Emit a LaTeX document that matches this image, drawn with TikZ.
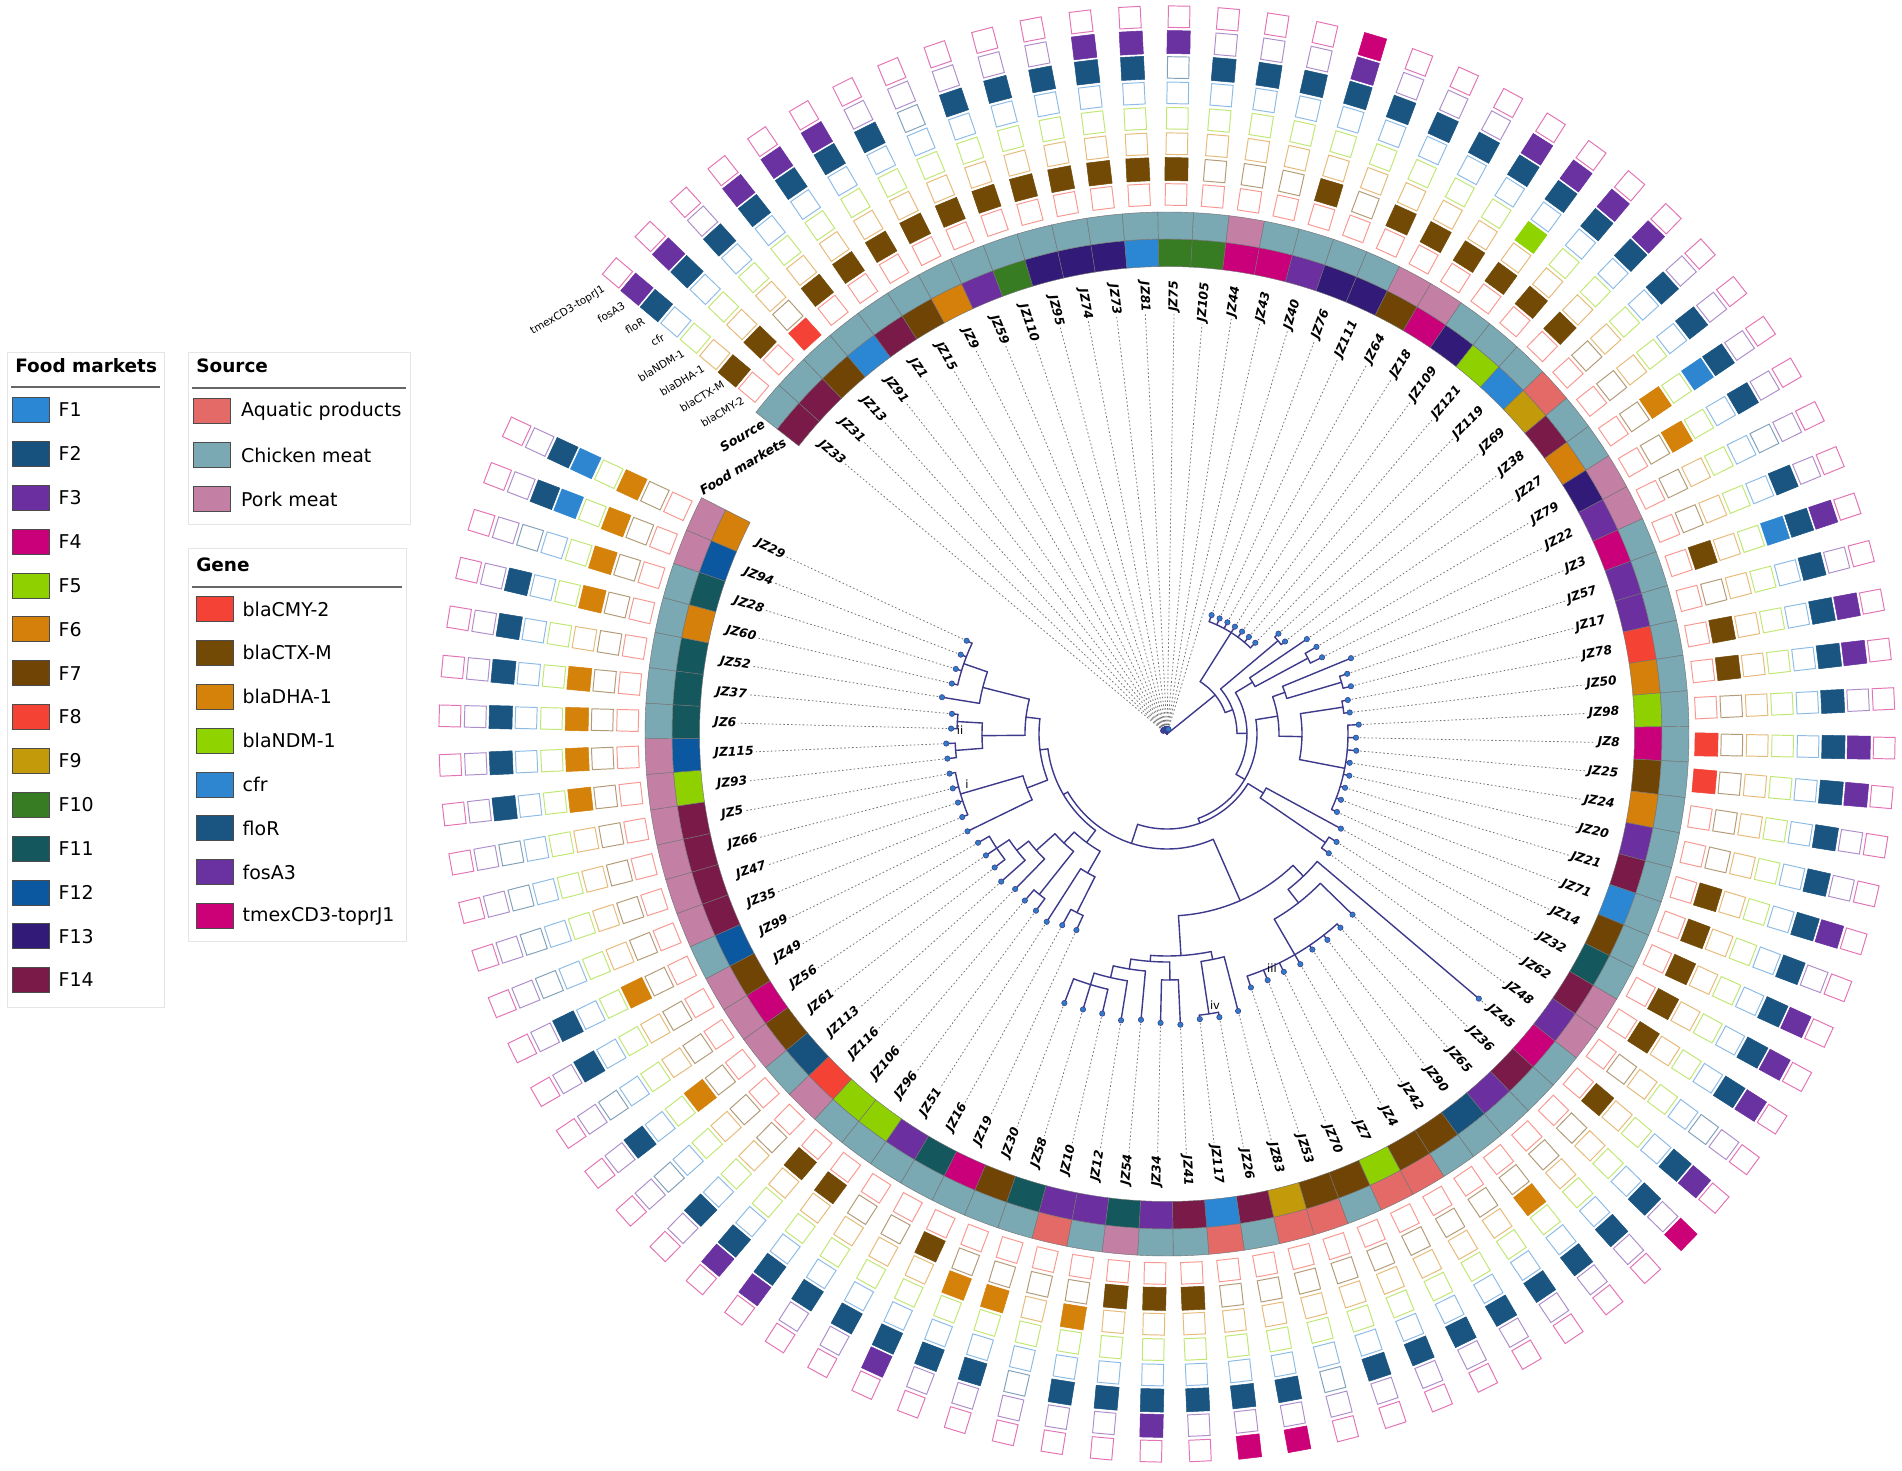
\documentclass[tikz,border=0pt]{standalone}
\usepackage{fontspec}
\setmainfont{DejaVu Sans}
\usetikzlibrary{positioning}

% food markets
\definecolor{fm1}{HTML}{2B87D4}
\definecolor{fm2}{HTML}{17527F}
\definecolor{fm3}{HTML}{6B2FA0}
\definecolor{fm4}{HTML}{C9007A}
\definecolor{fm5}{HTML}{8ED000}
\definecolor{fm6}{HTML}{D4800A}
\definecolor{fm7}{HTML}{704405}
\definecolor{fm8}{HTML}{F44335}
\definecolor{fm9}{HTML}{C29A0A}
\definecolor{fm10}{HTML}{377B22}
\definecolor{fm11}{HTML}{14585E}
\definecolor{fm12}{HTML}{0B57A0}
\definecolor{fm13}{HTML}{321A78}
\definecolor{fm14}{HTML}{7A1A48}
% source
\definecolor{srcA}{HTML}{E46A68}
\definecolor{srcC}{HTML}{7AA8B3}
\definecolor{srcP}{HTML}{C47FA5}
% genes
\definecolor{gn0}{HTML}{F44336}
\definecolor{gn1}{HTML}{734A05}
\definecolor{gn2}{HTML}{D4820A}
\definecolor{gn3}{HTML}{8FD400}
\definecolor{gn4}{HTML}{2E86D1}
\definecolor{gn5}{HTML}{1A5480}
\definecolor{gn6}{HTML}{6A31A0}
\definecolor{gn7}{HTML}{CC0077}
\definecolor{branch}{HTML}{3D3A8C}
\definecolor{tipblue}{HTML}{2E7BC6}

% ring cell: angle, inner radius, outer radius, colour
\newcommand{\ringcell}[4]{%
  \filldraw[fill=#4, draw=black!55, line width=0.25pt]
    (#1-1.96:#2) arc[start angle=#1-1.96, end angle=#1+1.96, radius=#2]
    -- (#1+1.96:#3) arc[start angle=#1+1.96, end angle=#1-1.96, radius=#3] -- cycle;}
% tree pieces: radius, from angle, to angle / angle, from radius, to radius
\newcommand{\treearc}[3]{\draw[treeline] (#2:#1) arc[start angle=#2, end angle=#3, radius=#1];}
\newcommand{\treestem}[3]{\draw[treeline] (#1:#2) -- (#1:#3);}

\begin{document}
\begin{tikzpicture}[x=0.02cm, y=0.02cm]
    % Estilos
    \tikzstyle{treeline} = [branch, line width=0.8pt, line cap=round]
    \tikzstyle{leader} = [black!55, line width=0.45pt, dash pattern=on 0.9pt off 1.3pt]
    \tikzstyle{tipdot} = [fill=tipblue, draw=branch, line width=0.3pt]
    \tikzstyle{leaflab} = [font=\fontsize{7}{8}\selectfont\bfseries\itshape, inner sep=1pt]
    \tikzstyle{genefull} = [rectangle, minimum size=0.46cm, inner sep=0pt, line width=0.3pt]
    \tikzstyle{geneempty} = [rectangle, minimum size=0.43cm, inner sep=0pt, fill=white, line width=0.55pt]
    \tikzstyle{colhead} = [font=\fontsize{6}{7}\selectfont, inner sep=0.5pt, rotate=31, anchor=east]
    \tikzstyle{ringhead} = [font=\fontsize{7.3}{8}\selectfont\bfseries\itshape, inner sep=0.5pt, rotate=31, anchor=east]
    \tikzstyle{cladelab} = [font=\fontsize{6.5}{7}\selectfont, inner sep=0pt]
    \tikzstyle{legframe} = [draw=black!10, line width=0.5pt, fill=white]
    \tikzstyle{legtitle} = [font=\fontsize{10.5}{12}\selectfont\bfseries, inner sep=0pt, anchor=west]
    \tikzstyle{legrule} = [black!60, line width=0.6pt]
    \tikzstyle{swatch} = [rectangle, draw=black!70, line width=0.4pt, minimum width=0.74cm, minimum height=0.5cm, inner sep=0pt]
    \tikzstyle{legtext} = [font=\fontsize{10.8}{12}\selectfont, inner sep=0pt, anchor=west]

    \fill[white] (-1167,-736) rectangle (735,734);
    \useasboundingbox (-1167,-736) rectangle (735,734);

    % --- Hojas: anillos, genes, etiquetas ---
    \foreach \lab/\fm/\src/\rp/\rt/\genes [count=\i from 0] in {
        JZ33/14/C/0/5/{0,1,0,0,0,1,1,0}, JZ31/14/C/0/5/{0,1,0,0,0,1,1,0},
        JZ13/7/C/0/5/{1,0,0,0,0,1,0,0}, JZ91/1/C/0/5/{0,1,0,0,0,1,1,0},
        JZ1/14/C/0/5/{0,1,0,0,0,1,1,0}, JZ15/7/C/0/5/{0,1,0,0,0,1,1,0},
        JZ9/6/C/0/5/{0,1,0,0,0,1,0,0}, JZ59/3/C/0/5/{0,1,0,0,0,0,0,0},
        JZ110/10/C/0/5/{0,1,0,0,0,1,0,0}, JZ95/13/C/0/5/{0,1,0,0,0,1,0,0},
        JZ74/13/C/0/5/{0,1,0,0,0,1,0,0}, JZ73/13/C/0/5/{0,1,0,0,0,1,1,0},
        JZ81/1/C/0/5/{0,1,0,0,0,1,1,0}, JZ75/10/C/0/5/{0,1,0,0,0,0,1,0},
        JZ105/10/C/0/5/{0,0,0,0,0,1,0,0}, JZ44/4/P/0/5/{0,0,0,0,0,1,0,0},
        JZ43/4/C/0/5/{0,0,0,0,0,1,0,0}, JZ40/3/C/0/5/{0,1,0,0,0,1,1,1},
        JZ76/13/C/120/127/{0,0,0,0,0,1,0,0}, JZ111/13/C/120/127/{0,1,0,0,0,1,0,0},
        JZ64/7/P/120/127/{0,1,0,0,0,1,0,0}, JZ18/4/P/120/127/{0,1,0,0,0,1,1,0},
        JZ109/13/C/120/127/{0,1,0,1,0,1,1,0}, JZ121/5/C/120/127/{0,1,0,0,0,1,1,0},
        JZ119/1/C/120/127/{0,1,0,0,0,1,1,0}, JZ69/9/A/145/150/{0,0,0,0,0,1,0,0},
        JZ38/14/C/145/150/{0,0,0,0,0,1,0,0}, JZ27/6/C/100/169/{0,0,1,0,1,1,0,0},
        JZ79/13/P/160/173/{0,0,1,0,0,1,0,0}, JZ22/3/P/160/173/{0,0,0,0,0,0,0,0},
        JZ3/4/C/125/199/{0,0,0,0,0,1,0,0}, JZ57/3/C/182/190/{0,1,0,0,1,1,1,0},
        JZ17/3/C/182/190/{0,0,0,0,0,1,0,0}, JZ78/8/C/178/184/{0,1,0,0,0,1,1,0},
        JZ50/6/C/178/184/{0,1,0,0,0,1,1,0}, JZ98/5/C/181/192/{0,0,0,0,0,1,0,0},
        JZ8/4/C/181/189/{1,0,0,0,0,1,1,0}, JZ25/7/C/181/190/{1,0,0,0,0,1,1,0},
        JZ24/6/C/181/185/{0,0,0,0,0,1,0,0}, JZ20/3/C/181/187/{0,0,0,0,0,1,0,0},
        JZ21/14/C/181/186/{0,1,0,0,0,1,1,0}, JZ71/1/C/181/186/{0,1,0,0,0,1,0,0},
        JZ14/7/C/181/187/{0,1,0,0,0,1,1,0}, JZ32/11/C/113/198/{0,1,0,0,0,1,1,0},
        JZ62/14/P/192/201/{0,1,0,0,0,1,1,0}, JZ48/3/P/192/201/{0,0,0,0,0,0,0,0},
        JZ45/4/C/197/409/{0,1,0,0,0,1,1,0}, JZ36/14/C/214/259/{0,0,0,0,0,1,0,1},
        JZ65/3/C/255/260/{0,0,0,0,0,1,0,0}, JZ90/2/C/255/261/{0,0,1,0,0,1,0,0},
        JZ42/7/C/255/260/{0,0,0,0,0,1,0,0}, JZ4/7/A/255/266/{0,0,0,0,0,1,0,0},
        JZ7/5/A/255/265/{0,0,0,0,0,1,0,0}, JZ70/7/C/255/266/{0,0,0,0,0,1,0,0},
        JZ53/7/A/255/267/{0,0,0,0,0,1,0,0}, JZ83/9/A/230/286/{0,0,0,0,0,0,0,0},
        JZ26/14/C/283/288/{0,0,0,0,0,1,0,1}, JZ117/1/A/283/287/{0,0,0,0,0,1,0,1},
        JZ41/14/C/246/291/{0,1,0,0,0,1,0,0}, JZ34/3/C/246/289/{0,1,0,0,0,1,1,0},
        JZ54/11/P/238/287/{0,1,0,0,0,1,0,0}, JZ12/3/C/250/290/{0,0,1,0,0,1,0,0},
        JZ10/3/A/262/287/{0,0,0,0,0,0,0,0}, JZ58/11/C/262/288/{0,0,1,0,0,1,0,0},
        JZ30/7/C/262/288/{0,0,1,0,0,1,0,0}, JZ19/4/C/200/216/{0,1,0,0,0,1,1,0},
        JZ16/11/C/200/218/{0,0,0,0,0,1,0,0}, JZ51/3/C/160/223/{0,0,0,0,0,1,0,0},
        JZ96/5/C/205/220/{0,1,0,0,0,1,1,0}, JZ106/5/C/205/219/{0,1,0,0,0,1,1,0},
        JZ116/8/P/175/217/{0,0,0,0,0,1,0,0}, JZ113/2/C/190/222/{0,0,0,0,0,0,0,0},
        JZ61/7/P/205/218/{0,0,1,0,0,1,0,0}, JZ56/4/P/205/218/{0,0,0,0,0,0,0,0},
        JZ49/7/P/205/218/{0,0,0,0,0,1,0,0}, JZ99/12/C/150/222/{0,0,1,0,0,1,0,0},
        JZ35/14/P/215/221/{0,0,0,0,0,0,0,0}, JZ47/14/P/215/220/{0,0,0,0,0,0,0,0},
        JZ66/14/P/215/221/{0,0,0,0,0,0,0,0}, JZ5/14/P/215/221/{0,0,0,0,0,0,0,0},
        JZ93/5/P/212/221/{0,0,1,0,0,1,0,0}, JZ115/12/P/212/221/{0,0,1,0,0,1,0,0},
        JZ6/11/C/210/216/{0,0,1,0,0,1,0,0}, JZ37/11/C/210/216/{0,0,1,0,0,1,0,0},
        JZ52/11/C/190/228/{0,0,0,0,0,1,0,0}, JZ60/6/C/215/221/{0,0,1,0,0,1,0,0},
        JZ28/11/C/215/221/{0,0,1,0,0,0,0,0}, JZ94/12/P/215/221/{0,0,1,0,1,1,0,0},
        JZ29/6/P/215/221/{0,0,1,0,1,1,0,0}}{
        \pgfmathsetmacro\a{140-3.92*\i}
        \ringcell{\a}{467.5}{495}{fm\fm}
        \ringcell{\a}{495}{522}{src\src}
        \foreach \v [count=\k from 0] in \genes {
            \pgfmathsetmacro\rr{539.5+25.4*\k}
            \ifnum\v=1
                \node[genefull, fill=gn\k, draw=gn\k, rotate=\a] (g\i-\k) at (\a:\rr) {};
            \else
                \node[geneempty, draw=gn\k!55, rotate=\a] (g\i-\k) at (\a:\rr) {};
            \fi
        }
        \draw[treeline] (\a:\rp) -- (\a:\rt) coordinate (tip\i);
        \pgfmathtruncatemacro\flip{(\a>90)+(\a<-90)}
        \ifnum\flip=1
            \node[leaflab, anchor=west, rotate=\a+180] (lab\i) at (\a:455) {\lab};
            \draw[leader] (tip\i) -- (lab\i.east);
        \else
            \node[leaflab, anchor=east, rotate=\a] (lab\i) at (\a:455) {\lab};
            \draw[leader] (tip\i) -- (lab\i.west);
        \fi
    }

    % --- Arbol ---
    \treestem{38.97}{0}{62}
    \treearc{62}{20.26}{57.68}
    \treestem{57.68}{62}{120} \treestem{20.26}{62}{70}
    \treearc{120}{45.92}{69.44}
    \treearc{70}{0.47}{40.04}
    \treestem{40.04}{70}{145} \treestem{0.47}{70}{80}
    \treearc{145}{38.08}{42}
    \treearc{80}{-30.29}{31.22}
    \treestem{31.22}{80}{100} \treestem{-30.29}{80}{90}
    \treearc{100}{28.28}{34.16}
    \treestem{28.28}{100}{160}
    \treearc{160}{26.32}{30.24}
    \treearc{90}{-69.75}{9.17}
    \treestem{9.17}{90}{112} \treestem{-69.75}{90}{95}
    \treearc{112}{-1.12}{19.46}
    \treestem{19.46}{112}{125} \treestem{-1.12}{112}{135}
    \treearc{125}{16.52}{22.4}
    \treestem{16.52}{125}{182}
    \treearc{182}{14.56}{18.48}
    \treearc{135}{-10.92}{8.68}
    \treestem{8.68}{135}{178} \treestem{-10.92}{135}{181}
    \treearc{178}{6.72}{10.64}
    \treearc{181}{-24.64}{2.8}
    \treearc{95}{-108}{-31.5}
    \treestem{-31.5}{95}{113} \treestem{-108}{95}{115}
    \treearc{113}{-34.44}{-28.56}
    \treestem{-34.44}{113}{192}
    \treearc{192}{-36.4}{-32.48}
    \treearc{115}{-149.7}{-66.29}
    \treestem{-66.29}{115}{182} \treestem{-149.7}{115}{120}
    \treearc{182}{-86.38}{-46.2}
    \treestem{-86.38}{182}{222} \treestem{-46.2}{182}{197}
    \treearc{197}{-52.08}{-40.32}
    \treestem{-52.08}{197}{214}
    \treearc{214}{-59.92}{-44.24}
    \treestem{-59.92}{214}{255}
    \treearc{255}{-71.68}{-48.16}
    \treearc{222}{-94.22}{-78.54}
    \treestem{-78.54}{222}{230} \treestem{-94.22}{222}{228}
    \treearc{230}{-81.48}{-75.6}
    \treestem{-81.48}{230}{283}
    \treearc{283}{-83.44}{-79.52}
    \treearc{228}{-99.12}{-89.32}
    \treestem{-89.32}{228}{246} \treestem{-99.12}{228}{238}
    \treearc{246}{-91.28}{-87.36}
    \treearc{238}{-103.04}{-95.2}
    \treestem{-103.04}{238}{250}
    \treearc{250}{-106.96}{-99.12}
    \treestem{-106.96}{250}{262}
    \treearc{262}{-110.88}{-103.04}
    \treearc{120}{-172.87}{-126.56}
    \treestem{-126.56}{120}{135} \treestem{-172.87}{120}{128}
    \treearc{135}{-133.42}{-119.7}
    \treestem{-119.7}{135}{160} \treestem{-133.42}{135}{150}
    \treearc{160}{-122.64}{-116.76}
    \treestem{-116.76}{160}{200}
    \treearc{200}{-118.72}{-114.8}
    \treearc{150}{-138.32}{-128.52}
    \treestem{-128.52}{150}{205} \treestem{-138.32}{150}{175}
    \treearc{205}{-130.48}{-126.56}
    \treearc{175}{-142.24}{-134.4}
    \treestem{-142.24}{175}{190}
    \treearc{190}{-146.16}{-138.32}
    \treestem{-146.16}{190}{205}
    \treearc{205}{-150.08}{-142.24}
    \treearc{128}{-186.83}{-158.9}
    \treestem{-158.9}{128}{150} \treestem{-186.83}{128}{142}
    \treearc{150}{-163.8}{-154}
    \treestem{-163.8}{150}{215}
    \treearc{215}{-169.68}{-157.92}
    \treearc{142}{-194.18}{-179.48}
    \treestem{-179.48}{142}{185} \treestem{-194.18}{142}{190}
    \treearc{185}{-183.4}{-175.56}
    \treestem{-175.56}{185}{212} \treestem{-183.4}{185}{210}
    \treearc{212}{-177.52}{-173.6}
    \treearc{210}{-185.36}{-181.44}
    \treearc{190}{-199.08}{-189.28}
    \treestem{-199.08}{190}{215}
    \treearc{215}{-204.96}{-193.2}

    % puntas
    \foreach \i in {0,...,88} {
        \filldraw[tipdot] (tip\i) circle[radius=2.7];
    }
    \node[cladelab] (cl1) at (-200,-50) {i};
    \node[cladelab] (cl2) at (-207,4) {ii};
    \node[cladelab] (cl3) at (105,-234) {iii};
    \node[cladelab] (cl4) at (48,-271) {iv};

    % --- Cabeceras de columnas ---
    \node[ringhead] (hfood) at (142.4:481) {Food markets};
    \node[ringhead] (hsrc) at (142.2:509) {Source};
    \foreach \g [count=\k from 0] in {blaCMY-2,blaCTX-M,blaDHA-1,blaNDM-1,cfr,floR,fosA3,tmexCD3-toprJ1} {
        \pgfmathsetmacro\rr{539.5+25.4*\k}
        \node[colhead] (hg\k) at (141.6:\rr) {\g};
    }

    % --- Leyendas ---
    \begin{scope}[shift={(-1167,734)}]
        % Food markets
        \draw[legframe] (7,-352) rectangle (164,-1007);
        \node[legtitle] (fmtitle) at (15,-366) {Food markets};
        \draw[legrule] (11,-387) -- (160,-387);
        \foreach \n [count=\j from 0] in {1,...,14} {
            \pgfmathsetmacro\yy{-410-43.85*\j}
            \node[swatch, fill=fm\n] (fmsw\n) at (30.5,\yy) {};
            \node[legtext, right=0.18cm of fmsw\n] (fmtx\n) {F\n};
        }
        % Source
        \draw[legframe] (188,-352) rectangle (410,-524);
        \node[legtitle] (srctitle) at (196,-366) {Source};
        \draw[legrule] (192,-388) -- (406,-388);
        \foreach \s/\t [count=\j from 0] in {A/Aquatic products, C/Chicken meat, P/Pork meat} {
            \pgfmathsetmacro\yy{-411-44*\j}
            \node[swatch, fill=src\s] (srcsw\s) at (212,\yy) {};
            \node[legtext, right=0.2cm of srcsw\s] (srctx\s) {\t};
        }
        % Gene
        \draw[legframe] (188,-548) rectangle (406,-941);
        \node[legtitle] (gntitle) at (196,-565) {Gene};
        \draw[legrule] (192,-587) -- (402,-587);
        \foreach \t [count=\j from 0] in {blaCMY-2,blaCTX-M,blaDHA-1,blaNDM-1,cfr,floR,fosA3,tmexCD3-toprJ1} {
            \pgfmathsetmacro\yy{-609-43.85*\j}
            \node[swatch, fill=gn\j] (gnsw\j) at (214.5,\yy) {};
            \node[legtext, right=0.18cm of gnsw\j] (gntx\j) {\t};
        }
    \end{scope}
\end{tikzpicture}
\end{document}
